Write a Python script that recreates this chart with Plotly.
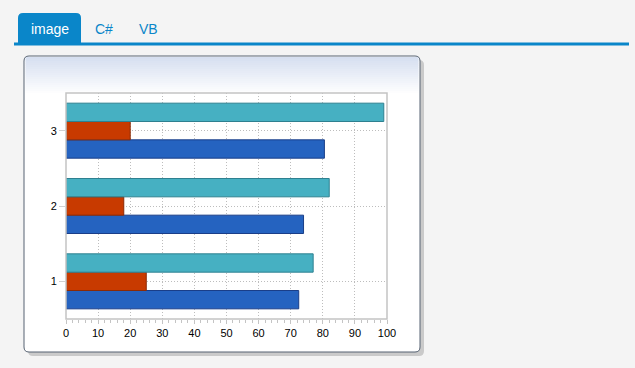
import plotly.graph_objects as go

# ---- data ----
categories = [1, 2, 3]
series_blue = [72.5, 74, 80.5]
series_red = [25, 18, 20]
series_teal = [77, 82, 99]
x_ticks = [0, 10, 20, 30, 40, 50, 60, 70, 80, 90, 100]
tab_labels = ["image", "C#", "VB"]

W, H = 635, 368
ML, MR, MT, MB = 66, 248, 93, 49
PW = W - ML - MR
PH = H - MT - MB


def px(x):
    return (x - ML) / PW


def py(y):
    return (H - MB - y) / PH


fig = go.Figure()
fig.add_trace(go.Bar(y=categories, x=series_blue, orientation="h",
                     marker=dict(color="#2563C0", line=dict(color="#1A3E88", width=1)),
                     name="A"))
fig.add_trace(go.Bar(y=categories, x=series_red, orientation="h",
                     marker=dict(color="#C83A00", line=dict(color="#8A2A06", width=1)),
                     name="B"))
fig.add_trace(go.Bar(y=categories, x=series_teal, orientation="h",
                     marker=dict(color="#46B0C2", line=dict(color="#2E8090", width=1)),
                     name="C"))

shapes = []


def rounded_rect(x0, y0, x1, y1, r, fill, line_color=None, line_width=0, top_only=False):
    X0, X1 = px(x0), px(x1)
    Y0, Y1 = py(y0), py(y1)
    rx = r / PW
    ry = r / PH
    if top_only:
        path = (f"M {X0 + rx},{Y0} L {X1 - rx},{Y0} Q {X1},{Y0} {X1},{Y0 - ry} "
                f"L {X1},{Y1} L {X0},{Y1} "
                f"L {X0},{Y0 - ry} Q {X0},{Y0} {X0 + rx},{Y0} Z")
    else:
        path = (f"M {X0 + rx},{Y0} L {X1 - rx},{Y0} Q {X1},{Y0} {X1},{Y0 - ry} "
                f"L {X1},{Y1 + ry} Q {X1},{Y1} {X1 - rx},{Y1} "
                f"L {X0 + rx},{Y1} Q {X0},{Y1} {X0},{Y1 + ry} "
                f"L {X0},{Y0 - ry} Q {X0},{Y0} {X0 + rx},{Y0} Z")
    return dict(type="path", xref="paper", yref="paper", path=path,
                fillcolor=fill, line=dict(color=line_color or fill, width=line_width),
                layer="below")


# shadow
shapes.append(rounded_rect(28, 60, 424, 356, 5, "#CACACA"))
# frame
shapes.append(rounded_rect(24, 56, 420, 352, 5, "#FFFFFF"))
# gradient inside frame top
g0, g1 = 57, 95
n = 19
c_top = (214, 223, 240)
c_bot = (255, 255, 255)
for i in range(n):
    t = i / (n - 1)
    c = tuple(int(round(c_top[k] + (c_bot[k] - c_top[k]) * t)) for k in range(3))
    ya = g0 + (g1 - g0) * i / n
    yb = g0 + (g1 - g0) * (i + 1) / n
    shapes.append(dict(type="rect", xref="paper", yref="paper",
                       x0=px(25.5), x1=px(418.5), y0=py(ya), y1=py(min(yb + 0.5, 93)),
                       fillcolor=f"rgb{c}", line=dict(width=0), layer="below"))
# frame border on top
shapes.append(rounded_rect(24, 56, 420, 352, 5, "rgba(0,0,0,0)", "#566272", 1))

# tab
shapes.append(rounded_rect(18, 13, 81, 44, 5, "#0A86C9", top_only=True))
shapes.append(dict(type="rect", xref="paper", yref="paper",
                   x0=px(14), x1=px(629), y0=py(42.5), y1=py(45.5),
                   fillcolor="#0A86C9", line=dict(width=0), layer="below"))
# plot border
shapes.append(dict(type="rect", xref="paper", yref="paper", x0=0, x1=1, y0=0, y1=1,
                   line=dict(color="#C4C4C4", width=1.5), fillcolor="rgba(0,0,0,0)",
                   layer="above"))

tab_font = "Liberation Sans, Arial"
annotations = [
    dict(text=tab_labels[0], x=px(49.5), y=py(29), xref="paper", yref="paper",
         xanchor="center", yanchor="middle",
         showarrow=False, font=dict(family=tab_font, size=14, color="white")),
    dict(text=tab_labels[1], x=px(104), y=py(29), xref="paper", yref="paper",
         xanchor="center", yanchor="middle",
         showarrow=False, font=dict(family=tab_font, size=14, color="#0A86C9")),
    dict(text=tab_labels[2], x=px(148), y=py(29), xref="paper", yref="paper",
         xanchor="center", yanchor="middle",
         showarrow=False, font=dict(family=tab_font, size=14, color="#0A86C9")),
]

fig.update_layout(
    width=W, height=H,
    margin=dict(l=ML, r=MR, t=MT, b=MB, pad=0),
    paper_bgcolor="#F4F4F4",
    plot_bgcolor="#FFFFFF",
    barmode="group",
    bargap=0.27,
    bargroupgap=0,
    showlegend=False,
    shapes=shapes,
    annotations=annotations,
    font=dict(family="Liberation Sans, Arial", size=11, color="#000000"),
    xaxis=dict(range=[0, 100], tickvals=x_ticks, ticktext=[str(v) for v in x_ticks],
               showgrid=True, gridcolor="#BDBDBD", griddash="1px,2px", gridwidth=1,
               zeroline=False, ticks="outside", ticklen=4, tickcolor="#C4C4C4",
               minor=dict(dtick=2, ticks="outside", ticklen=3, tickcolor="#C4C4C4", showgrid=False),
               showline=False, tickfont=dict(size=11), fixedrange=True),
    yaxis=dict(range=[0.5, 3.5], tickvals=categories, ticktext=[str(c) for c in categories],
               showgrid=True, gridcolor="#BDBDBD", griddash="1px,2px", gridwidth=1,
               zeroline=False, ticks="outside", ticklen=6, tickcolor="#D0D0D0",
               showline=False, tickfont=dict(size=11), fixedrange=True),
)

fig.write_html("out.html", config={"displayModeBar": False},
               post_script="document.body.style.margin='0';document.body.style.background='#F4F4F4';")
